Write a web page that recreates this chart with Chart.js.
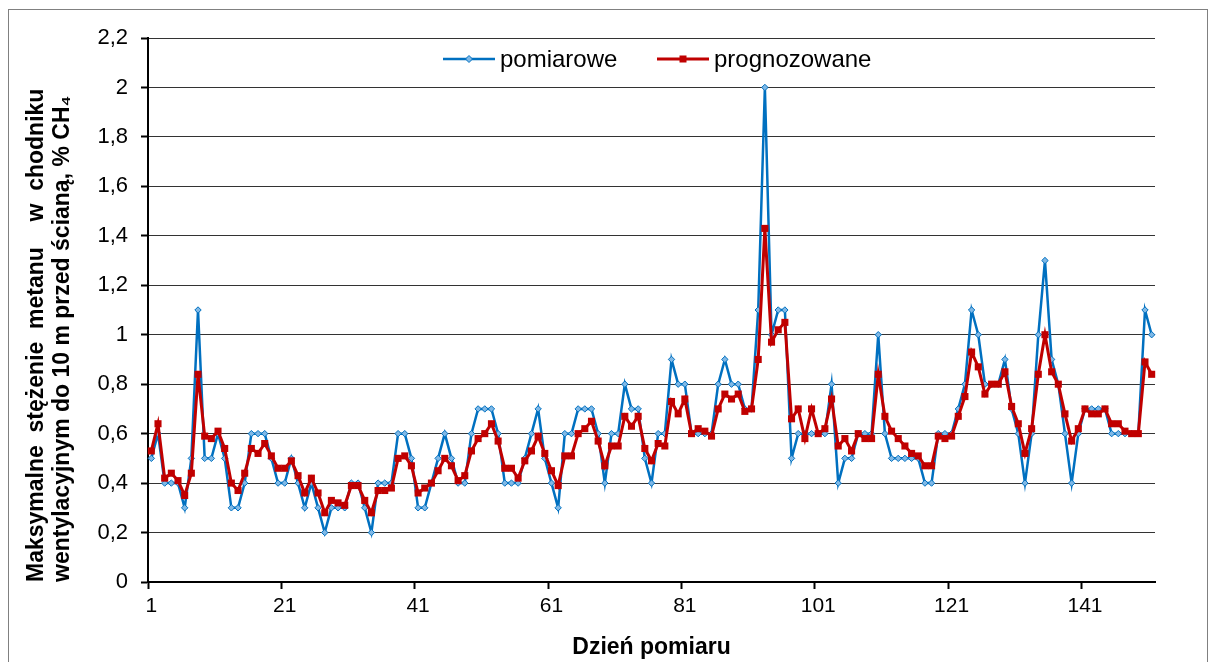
<!DOCTYPE html>
<html>
<head>
<meta charset="utf-8">
<script src="https://cdn.jsdelivr.net/npm/chart.js@4.4.1/dist/chart.umd.min.js"></script>
<style>
    body { margin: 0; background: #fff; }
    #frame { position: absolute; left: 8px; top: 9px; width: 1198px; height: 700px; border: 1px solid #808080; }
    #wrap { position: absolute; left: 0; top: 0; width: 1208px; height: 662px; }
</style>
</head>
<body>
<div id="frame"></div>
<div id="wrap"><canvas id="methaneChart"></canvas></div>
<script>
const days = Array.from({ length: 151 }, (_, i) => i + 1);

const pomiarowe = [
    0.5, 0.6, 0.4, 0.4, 0.4, 0.3, 0.5, 1.1, 0.5, 0.5, 0.6, 0.5, 0.3, 0.3, 0.4, 0.6, 0.6, 0.6, 0.5, 0.4, 0.4, 0.5, 0.4, 0.3,
    0.4, 0.3, 0.2, 0.3, 0.3, 0.3, 0.4, 0.4, 0.3, 0.2, 0.4, 0.4, 0.4, 0.6, 0.6, 0.5, 0.3, 0.3, 0.4, 0.5, 0.6, 0.5, 0.4, 0.4,
    0.6, 0.7, 0.7, 0.7, 0.6, 0.4, 0.4, 0.4, 0.5, 0.6, 0.7, 0.5, 0.4, 0.3, 0.6, 0.6, 0.7, 0.7, 0.7, 0.6, 0.4, 0.6, 0.6, 0.8, 0.7, 0.7,
    0.5, 0.4, 0.6, 0.6, 0.9, 0.8, 0.8, 0.6, 0.6, 0.6, 0.6, 0.8, 0.9, 0.8, 0.8, 0.7, 0.7, 1.1, 2.0, 1.0, 1.1, 1.1, 0.5, 0.6,
    0.6, 0.6, 0.6, 0.6, 0.8, 0.4, 0.5, 0.5, 0.6, 0.6, 0.6, 1.0, 0.6, 0.5, 0.5, 0.5, 0.5, 0.5, 0.4, 0.4, 0.6, 0.6, 0.6, 0.7, 0.8,
    1.1, 1.0, 0.8, 0.8, 0.8, 0.9, 0.7, 0.6, 0.4, 0.6, 1.0, 1.3, 0.9, 0.8, 0.6, 0.4, 0.6, 0.7, 0.7, 0.7, 0.7, 0.6, 0.6, 0.6, 0.6, 0.6, 1.1, 1.0
];

const prognozowane = [
    0.53, 0.64, 0.42, 0.44, 0.41, 0.35, 0.44, 0.84, 0.59, 0.58, 0.61, 0.54, 0.40, 0.37, 0.44, 0.54, 0.52, 0.56, 0.51, 0.46, 0.46, 0.49, 0.43, 0.36,
    0.42, 0.36, 0.28, 0.33, 0.32, 0.31, 0.39, 0.39, 0.33, 0.28, 0.37, 0.37, 0.38, 0.50, 0.51, 0.47, 0.36, 0.38, 0.40, 0.45, 0.50, 0.47, 0.41, 0.43,
    0.53, 0.58, 0.60, 0.64, 0.57, 0.46, 0.46, 0.42, 0.49, 0.53, 0.59, 0.52, 0.45, 0.39, 0.51, 0.51, 0.60, 0.62, 0.65, 0.57, 0.47, 0.55, 0.55, 0.67, 0.63, 0.67,
    0.54, 0.49, 0.56, 0.55, 0.73, 0.68, 0.74, 0.60, 0.62, 0.61, 0.59, 0.70, 0.76, 0.74, 0.76, 0.69, 0.70, 0.90, 1.43, 0.97, 1.02, 1.05, 0.66, 0.70,
    0.58, 0.70, 0.60, 0.62, 0.74, 0.55, 0.58, 0.53, 0.60, 0.58, 0.58, 0.84, 0.67, 0.61, 0.58, 0.55, 0.52, 0.51, 0.47, 0.47, 0.59, 0.58, 0.59, 0.67, 0.75,
    0.93, 0.87, 0.76, 0.80, 0.80, 0.85, 0.71, 0.64, 0.52, 0.62, 0.84, 1.00, 0.85, 0.80, 0.68, 0.57, 0.62, 0.70, 0.68, 0.68, 0.70, 0.64, 0.64, 0.61, 0.60, 0.60, 0.89, 0.84
];

const seriesNames = ["pomiarowe", "prognozowane"];
const yTitle = ["Maksymalne  stężenie  metanu    w  chodniku", "wentylacyjnym do 10 m przed ścianą, % CH₄"];
const xTitle = "Dzień pomiaru";

const blue = "#0070C0";
const red = "#C00000";
const fontFamily = "'Liberation Sans', Arial, sans-serif";

// legend sits inside the plot area, so it is drawn by hand
const insideLegend = {
    id: "insideLegend",
    afterDraw: (chart) => {
        const ctx = chart.ctx;
        const area = chart.chartArea;
        const y = area.top + 21;
        const items = [
            { text: seriesNames[0], color: blue, x: area.left + 295, width: 2.5, marker: "diamond" },
            { text: seriesNames[1], color: red, x: area.left + 509, width: 3, marker: "square" }
        ];
        ctx.save();
        ctx.font = "24px " + fontFamily;
        ctx.textBaseline = "middle";
        items.forEach(item => {
            ctx.strokeStyle = item.color;
            ctx.lineWidth = item.width;
            ctx.beginPath();
            ctx.moveTo(item.x, y);
            ctx.lineTo(item.x + 52, y);
            ctx.stroke();
            const mx = item.x + 26;
            if (item.marker == "diamond") {
                ctx.fillStyle = "#7fb8e6";
                ctx.lineWidth = 1;
                ctx.beginPath();
                ctx.moveTo(mx, y - 3.5);
                ctx.lineTo(mx + 3.5, y);
                ctx.lineTo(mx, y + 3.5);
                ctx.lineTo(mx - 3.5, y);
                ctx.closePath();
                ctx.fill();
                ctx.stroke();
            } else {
                ctx.fillStyle = item.color;
                ctx.fillRect(mx - 3.5, y - 3.5, 7, 7);
            }
            ctx.fillStyle = "#000";
            ctx.fillText(item.text, item.x + 57, y + 1);
        });
        ctx.restore();
    }
};

const formatTick = (value) => {
    const v = Math.round(value * 10) / 10;
    return String(v).replace(".", ",");
};

new Chart(document.getElementById("methaneChart"), {
    type: "line",
    data: {
        labels: days,
        datasets: [
            {
                label: seriesNames[0],
                data: pomiarowe,
                borderColor: blue,
                borderWidth: 2.5,
                pointStyle: "rectRot",
                pointRadius: 3.2,
                pointBorderWidth: 1,
                pointBorderColor: blue,
                pointBackgroundColor: "#7fb8e6",
                tension: 0,
                order: 2
            },
            {
                label: seriesNames[1],
                data: prognozowane,
                borderColor: red,
                borderWidth: 3,
                pointStyle: "rect",
                pointRadius: 5,
                pointBorderWidth: 0,
                pointBackgroundColor: red,
                tension: 0,
                order: 1
            }
        ]
    },
    options: {
        responsive: true,
        maintainAspectRatio: false,
        animation: false,
        layout: { padding: { left: 0, right: 53, top: 38, bottom: 0 } },
        plugins: {
            legend: { display: false },
            tooltip: { enabled: false }
        },
        scales: {
            x: {
                type: "category",
                offset: true,
                afterFit: (scale) => { scale.height = 80; },
                border: { display: true, color: "#000", width: 2 },
                grid: {
                    offset: true,
                    drawOnChartArea: false,
                    drawTicks: true,
                    tickLength: 7,
                    tickWidth: 2,
                    tickColor: (c) => (c.index !== undefined && c.index % 20 === 0 ? "#000" : "rgba(0,0,0,0)")
                },
                ticks: {
                    autoSkip: false,
                    maxRotation: 0,
                    minRotation: 0,
                    padding: 5,
                    color: "#000",
                    font: { family: fontFamily, size: 21 },
                    callback: (value, index) => (index % 20 === 0 ? String(days[index]) : "")
                },
                title: {
                    display: true,
                    text: xTitle,
                    color: "#000",
                    font: { family: fontFamily, size: 23, weight: "bold" },
                    padding: { top: 0, bottom: 1 }
                }
            },
            y: {
                min: 0,
                max: 2.2,
                afterFit: (scale) => { scale.width = 148; },
                border: { display: true, color: "#000", width: 2 },
                grid: {
                    color: "#333",
                    lineWidth: 1,
                    drawTicks: true,
                    tickLength: 7,
                    tickColor: "#000",
                    tickWidth: 2
                },
                ticks: {
                    stepSize: 0.2,
                    padding: 13,
                    color: "#000",
                    font: { family: fontFamily, size: 22 },
                    callback: (value) => formatTick(value)
                },
                title: {
                    display: true,
                    text: yTitle,
                    align: "start",
                    color: "#000",
                    font: { family: fontFamily, size: 23, weight: "bold", lineHeight: 1.15 },
                    padding: { top: 23, bottom: 0 }
                }
            }
        }
    },
    plugins: [insideLegend]
});
</script>
</body>
</html>
